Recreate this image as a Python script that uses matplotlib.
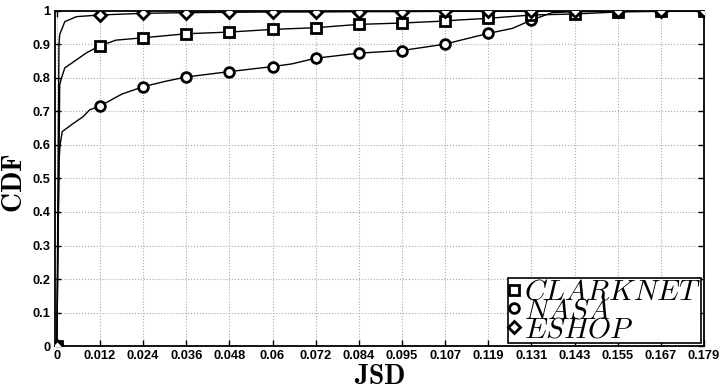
import numpy as np
import matplotlib
matplotlib.use("Agg")
import matplotlib.pyplot as plt
from matplotlib.lines import Line2D

plt.rcParams['mathtext.fontset'] = 'cm'

# tick labels on the x axis (ticks are evenly spaced from 0 to 0.179)
x_labels = ['0', '0.012', '0.024', '0.036', '0.048', '0.06', '0.072', '0.084',
            '0.095', '0.107', '0.119', '0.131', '0.143', '0.155', '0.167', '0.179']
y_labels = ['0', '0.1', '0.2', '0.3', '0.4', '0.5', '0.6', '0.7', '0.8', '0.9', '1']

# CDF curves
clark_x = [0, 0.0006, 0.0008, 0.0013, 0.0022, 0.0054, 0.0082, 0.0119, 0.0164, 0.0239,
           0.0358, 0.0477, 0.0597, 0.0716, 0.0835, 0.0955, 0.1074, 0.111, 0.1193,
           0.1313, 0.1432, 0.1551, 0.1671, 0.179]
clark_y = [0, 0.55, 0.78, 0.80, 0.83, 0.854, 0.875, 0.896, 0.913, 0.920,
           0.932, 0.937, 0.945, 0.950, 0.960, 0.964, 0.970, 0.973, 0.978,
           0.988, 0.991, 0.997, 0.999, 1.0]

nasa_x = [0, 0.0006, 0.0009, 0.0015, 0.004, 0.0072, 0.0091, 0.0119, 0.018, 0.0239,
          0.030, 0.0358, 0.0477, 0.0597, 0.065, 0.0716, 0.0835, 0.0955, 0.1074,
          0.111, 0.1193, 0.126, 0.1313, 0.137, 0.1432, 0.1551, 0.1671, 0.179]
nasa_y = [0, 0.55, 0.60, 0.64, 0.66, 0.684, 0.705, 0.716, 0.752, 0.774,
          0.790, 0.803, 0.819, 0.834, 0.842, 0.859, 0.874, 0.882, 0.901,
          0.911, 0.933, 0.948, 0.973, 0.995, 0.998, 0.999, 1.0, 1.0]

eshop_x = [0, 0.0006, 0.0008, 0.0013, 0.0022, 0.0054, 0.0119, 0.0239, 0.0358, 0.0477,
           0.0597, 0.0716, 0.0835, 0.0955, 0.1074, 0.1193, 0.1313, 0.1432, 0.1551,
           0.1671, 0.179]
eshop_y = [0, 0.90, 0.93, 0.943, 0.968, 0.983, 0.988, 0.993, 0.995, 0.996,
           0.997, 0.997, 0.998, 0.998, 0.999, 0.999, 0.999, 1.0, 1.0, 1.0, 1.0]

# marker values at the x ticks
clark_marks = [0, 0.896, 0.920, 0.932, 0.937, 0.945, 0.950, 0.960, 0.964, 0.970,
               0.978, 0.988, 0.991, 0.997, 0.999, 1.0]
nasa_marks = [0, 0.716, 0.774, 0.803, 0.819, 0.834, 0.859, 0.874, 0.882, 0.901,
              0.933, 0.973, 0.998, 0.999, 1.0, 1.0]
eshop_marks = [0, 0.988, 0.993, 0.995, 0.996, 0.997, 0.997, 0.998, 0.998, 0.999,
               0.999, 0.999, 1.0, 1.0, 1.0, 1.0]

xt = np.linspace(0, 0.179, len(x_labels))
yt = np.linspace(0, 1, len(y_labels))

fig = plt.figure(figsize=(7.2, 3.89), dpi=100)
ax = fig.add_axes([0.0764, 0.1105, 0.9014, 0.8613])

mk = dict(markersize=7, markeredgewidth=2, markerfacecolor='white',
          markeredgecolor='black', linestyle='none', zorder=4)

ax.plot(clark_x, clark_y, color='black', lw=1.0)
ax.plot(nasa_x, nasa_y, color='black', lw=1.0)
ax.plot(eshop_x, eshop_y, color='black', lw=1.0)
ax.plot(xt, nasa_marks, marker='o', **mk)
ax.plot(xt, clark_marks, marker='s', **mk)
ax.plot(xt, eshop_marks, marker='D', **dict(mk, markersize=6.5))

ax.set_xlim(-0.0005, 0.179)
ax.set_ylim(0, 1)
ax.set_xticks(xt)
ax.set_xticklabels(x_labels)
ax.set_yticks(yt)
ax.set_yticklabels(y_labels)
for lab in ax.get_xticklabels() + ax.get_yticklabels():
    lab.set_fontfamily('Liberation Sans')
    lab.set_fontweight('bold')
    lab.set_fontsize(9.3)
ax.tick_params(direction='in', length=4, width=1, top=True, right=True, pad=3)
ax.grid(True, linestyle=':', color='#aaaaaa', linewidth=0.8)
for s in ax.spines.values():
    s.set_linewidth(1.3)

ax.set_xlabel(r'$\mathbf{JSD}$', fontsize=20, labelpad=0)
ax.set_ylabel(r'$\mathbf{CDF}$', fontsize=20)
ax.yaxis.set_label_coords(-0.042, 0.485)

handles = [Line2D([], [], marker='s', **mk),
           Line2D([], [], marker='o', **mk),
           Line2D([], [], marker='D', **dict(mk, markersize=6.5))]
leg = ax.legend(handles, [r'$CLARKNET$', r'$NASA$', r'$ESHOP$'],
                loc='lower right', fontsize=21, labelspacing=-0.32,
                handlelength=0.4, handletextpad=0.15, borderpad=0.0,
                borderaxespad=0.1, fancybox=False, framealpha=1,
                edgecolor='black')
leg.get_frame().set_linewidth(1.2)

fig.savefig('out.png', dpi=100)
